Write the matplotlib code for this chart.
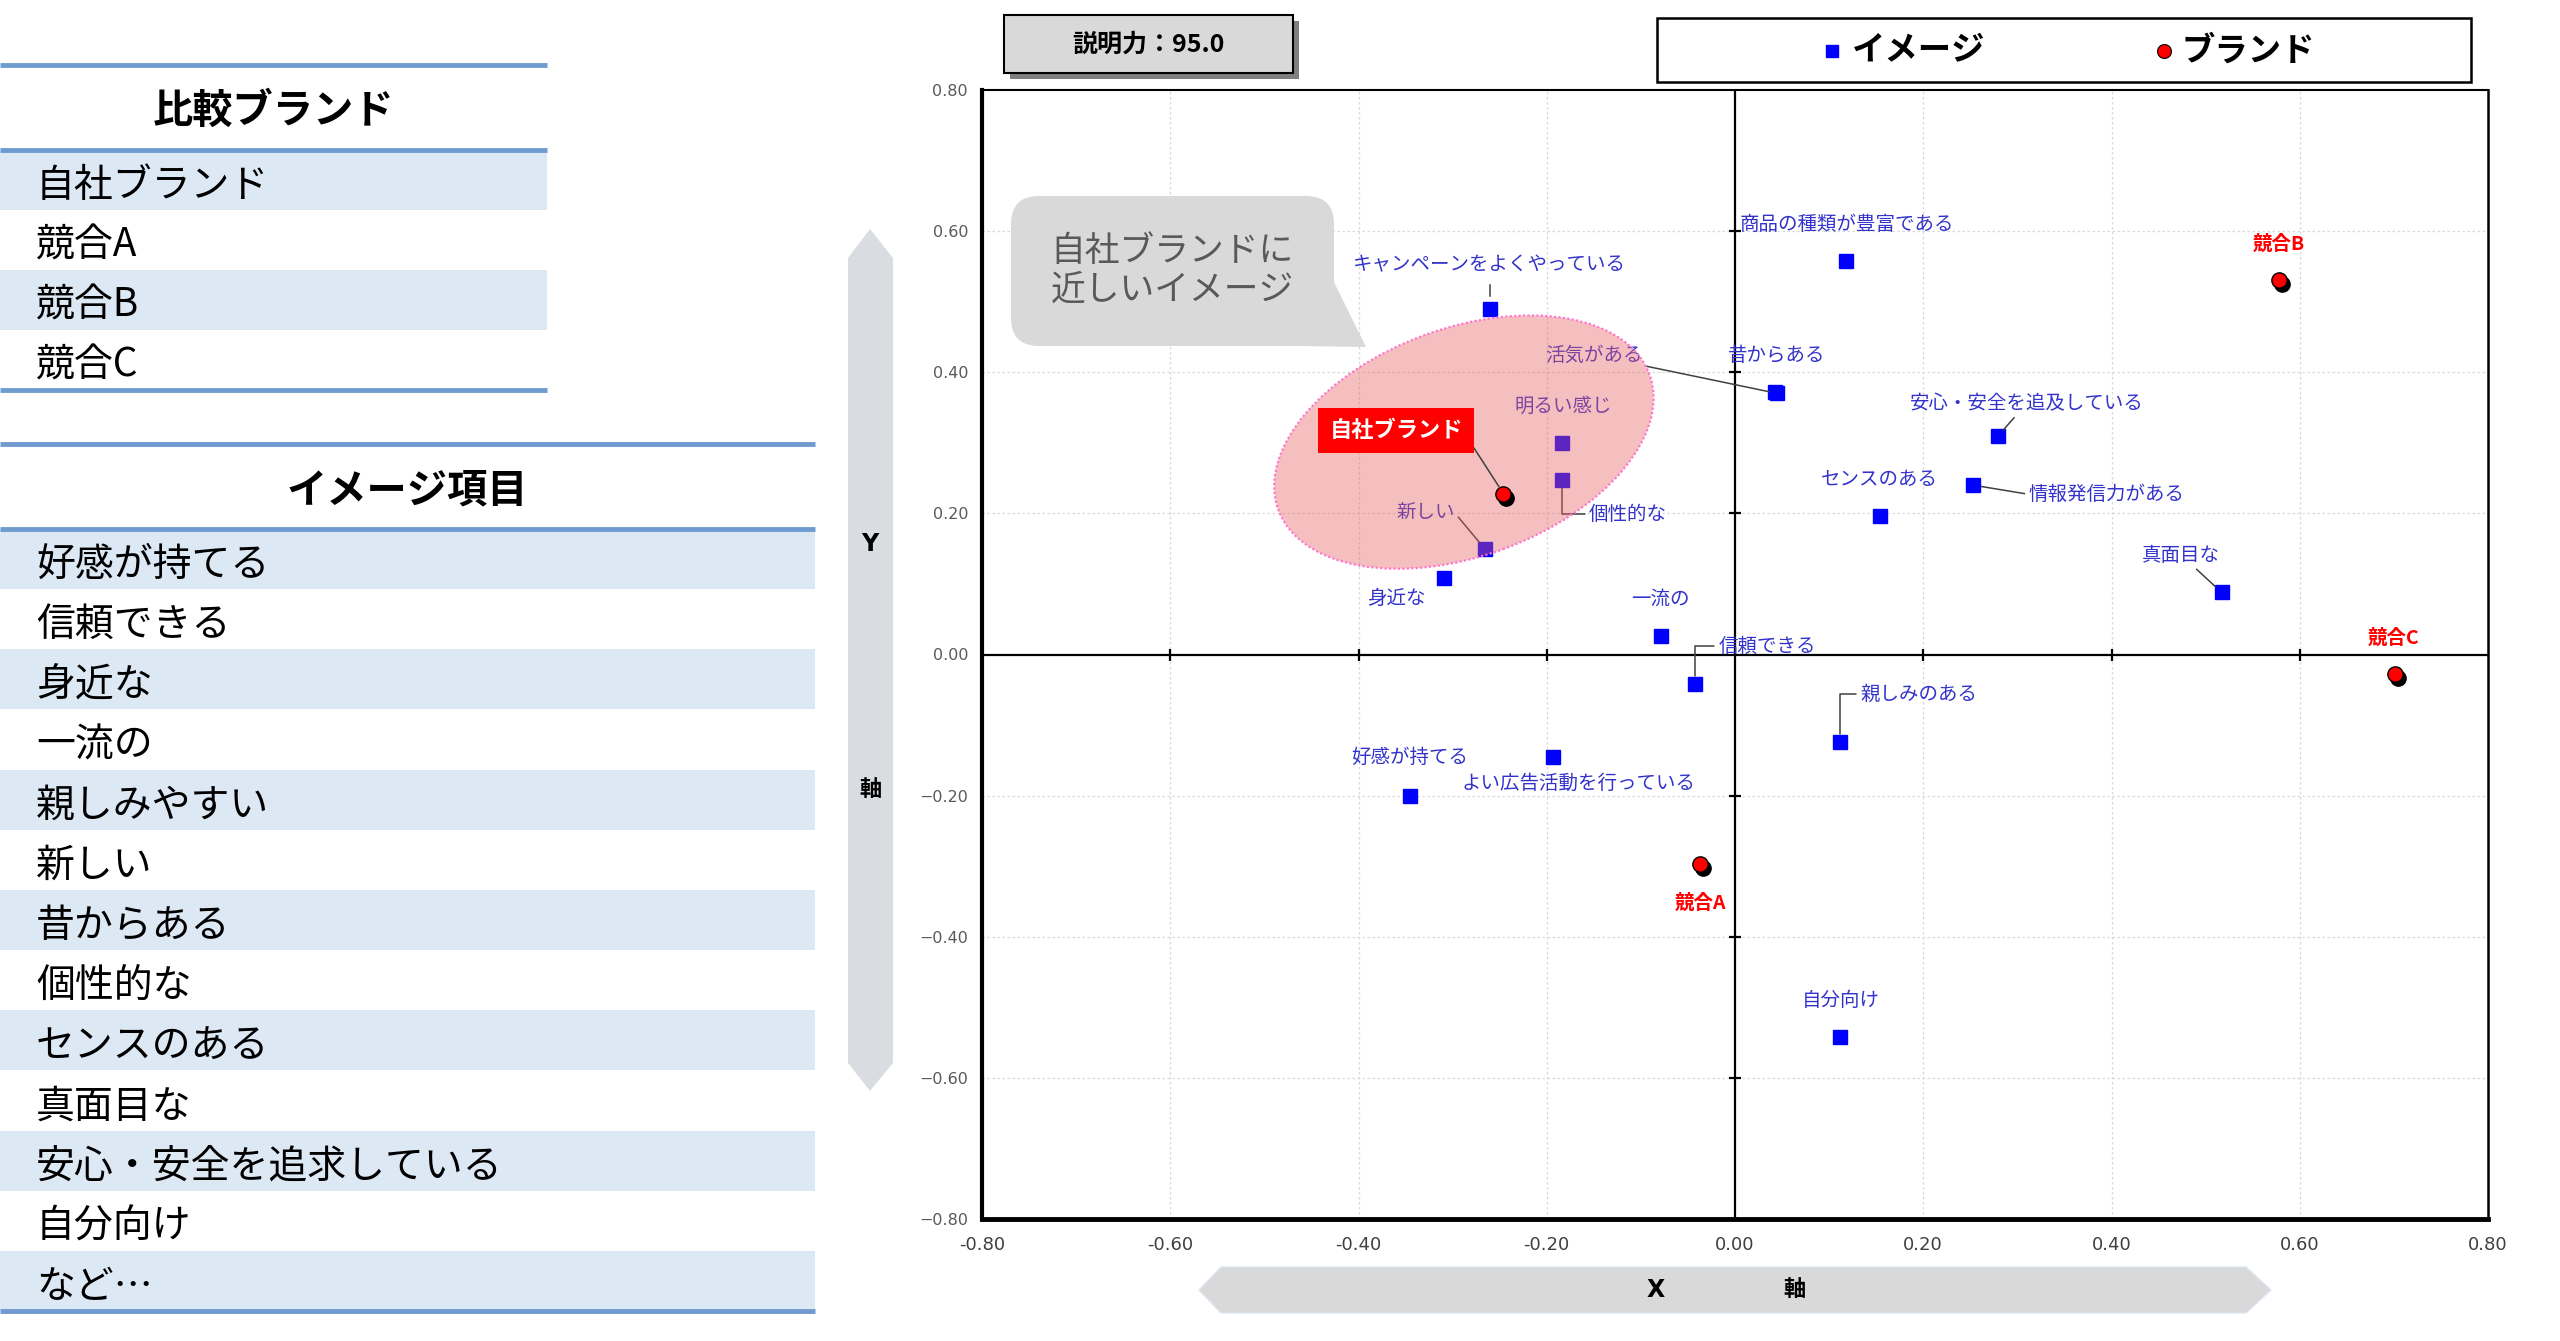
import matplotlib
matplotlib.use("Agg")
import matplotlib.pyplot as plt
from matplotlib.patches import Ellipse, Rectangle, Polygon, FancyBboxPatch
from matplotlib.transforms import ScaledTranslation, offset_copy

plt.rcParams['font.family'] = ['Noto Sans CJK JP', 'DejaVu Sans']

# ===== データ =====
brand_table = ["自社ブランド", "競合A", "競合B", "競合C"]
item_table = ["好感が持てる", "信頼できる", "身近な", "一流の", "親しみやすい", "新しい",
              "昔からある", "個性的な", "センスのある", "真面目な",
              "安心・安全を追求している", "自分向け", "など…"]

image_names = ["キャンペーンをよくやっている", "商品の種類が豊富である", "昔からある", "活気がある",
               "安心・安全を追及している", "情報発信力がある", "センスのある", "真面目な",
               "明るい感じ", "個性的な", "新しい", "身近な", "一流の", "信頼できる",
               "親しみのある", "よい広告活動を行っている", "好感が持てる", "自分向け"]
image_x = [-0.260, 0.118, 0.043, 0.045, 0.279, 0.253, 0.154, 0.517,
           -0.184, -0.184, -0.266, -0.309, -0.079, -0.042, 0.112, -0.193, -0.345, 0.112]
image_y = [0.490, 0.558, 0.372, 0.370, 0.309, 0.240, 0.196, 0.088,
           0.300, 0.248, 0.150, 0.108, 0.026, -0.042, -0.124, -0.145, -0.201, -0.542]

brand_names = ["自社ブランド", "競合A", "競合B", "競合C"]
brand_x = [-0.246, -0.037, 0.578, 0.701]
brand_y = [0.228, -0.297, 0.531, -0.028]

ticks = [-0.8, -0.6, -0.4, -0.2, 0.0, 0.2, 0.4, 0.6, 0.8]
explained = 95.0

# ラベル位置 (データ座標) と引き出し線の種類
image_label_pos = [(-0.261, 0.553), (0.119, 0.609), (0.044, 0.424), (-0.150, 0.424),
                   (0.310, 0.356), (0.395, 0.227), (0.153, 0.248), (0.474, 0.141),
                   (-0.183, 0.352), (-0.114, 0.199), (-0.329, 0.201), (-0.360, 0.079),
                   (-0.079, 0.079), (0.034, 0.012), (0.195, -0.056), (-0.166, -0.183),
                   (-0.346, -0.146), (0.112, -0.491)]
image_leader = [None, None, None, "line", "line", "left", None, "line",
                None, "elbow", "right", None, None, "elbow", "elbow", None, None, None]
brand_label_pos = [(-0.360, 0.317), (-0.037, -0.352), (0.578, 0.581), (0.700, 0.023)]

BLUE_TXT = '#3333CC'
LEADER = '#404040'

# ===== 図 =====
fig = plt.figure(figsize=(25.6, 13.41), dpi=100)
ax = fig.add_axes([982 / 2560, 1 - 1219 / 1341, (2488 - 982) / 2560, (1219 - 90) / 1341])
ax.set_xlim(-0.8, 0.8)
ax.set_ylim(-0.8, 0.8)
ax.set_xticks(ticks)
ax.set_yticks(ticks)
ax.set_xticklabels([f"{t:.2f}" for t in ticks],
                   family=['Liberation Sans Narrow', 'DejaVu Sans'], fontsize=13, color='#404040')
ax.set_yticklabels([f"{t:.2f}".replace("-", "\u2212") for t in ticks],
                   family='DejaVu Sans', fontsize=11.5, color='#595959')
ax.tick_params(length=0, pad=10)
ax.tick_params(axis='x', pad=12)
for t in ticks[1:-1]:
    if t != 0:
        ax.axvline(t, color='#D9D9D9', lw=0.9, ls=(0, (2, 2)), zorder=0)
        ax.axhline(t, color='#D9D9D9', lw=0.9, ls=(0, (2, 2)), zorder=0)
ax.axvline(0, color='black', lw=1.6, zorder=1)
ax.axhline(0, color='black', lw=1.6, zorder=1)
inner = [t for t in ticks[1:-1] if t != 0]
ax.plot(inner, [0] * len(inner), ls='none', marker='|', ms=9, mew=1.6, color='black', zorder=1)
ax.plot([0] * len(inner), inner, ls='none', marker='_', ms=9, mew=1.6, color='black', zorder=1)
for side, w in [('left', 3), ('bottom', 3.5), ('top', 1.5), ('right', 1.8)]:
    ax.spines[side].set_linewidth(w)
    ax.spines[side].set_color('black')

# イメージ
ax.plot(image_x, image_y, ls='none', marker='s', ms=10, color='#0000FF', zorder=3)

# 自社ブランドに近い領域 (ラベルと点の上に半透明で重ねる)
ell_trans = fig.dpi_scale_trans + ScaledTranslation(-0.288, 0.301, ax.transData)
ax.add_patch(Ellipse((0, 0), 3.95, 2.28, angle=20, transform=ell_trans,
                     fc='#E85F60', ec='none', alpha=0.4, zorder=4))
ax.add_patch(Ellipse((0, 0), 3.95, 2.28, angle=20, transform=ell_trans,
                     fc='none', ec='#FF77CC', lw=1.6, ls=(0, (1, 1)), zorder=4))

for name, px, py, pos, kind in zip(image_names, image_x, image_y, image_label_pos, image_leader):
    if kind is None:
        ax.text(pos[0], pos[1], name, ha='center', va='center', fontsize=14,
                color=BLUE_TXT, zorder=3)
        continue
    props = dict(arrowstyle='-', color=LEADER, lw=1.1, shrinkA=1, shrinkB=6)
    if kind == "elbow":
        props.update(connectionstyle="angle,angleA=0,angleB=90,rad=0", relpos=(0, 0.5))
    elif kind == "left":
        props.update(relpos=(0, 0.5))
    elif kind == "right":
        props.update(relpos=(1, 0.5))
    ax.annotate(name, xy=(px, py), xytext=pos, ha='center', va='center', fontsize=14,
                color=BLUE_TXT, arrowprops=props, zorder=3)
# キャンペーンの短い縦線
ax.plot([image_x[0], image_x[0]], [image_y[0] + 0.018, image_label_pos[0][1] - 0.03],
        color=LEADER, lw=1.1, zorder=2)

# ブランド
shadow = offset_copy(ax.transData, fig=fig, x=3, y=-4, units='dots')
ax.plot(brand_x, brand_y, ls='none', marker='o', ms=11, color='black', transform=shadow, zorder=6)
ax.plot(brand_x, brand_y, ls='none', marker='o', ms=11, mfc='#FF0000', mec='black', mew=1, zorder=7)
for i, (name, pos) in enumerate(zip(brand_names, brand_label_pos)):
    if i == 0:
        ax.annotate(name, xy=(brand_x[i], brand_y[i]), xytext=pos, ha='center', va='center',
                    fontsize=16, fontweight='bold', color='white',
                    bbox=dict(boxstyle='square,pad=0.5', fc='#FF0000', ec='none'),
                    arrowprops=dict(arrowstyle='-', color=LEADER, lw=1.1, relpos=(1, 0.5),
                                    shrinkA=0, shrinkB=6), zorder=8)
    else:
        ax.text(pos[0], pos[1], name, ha='center', va='center', fontsize=14,
                fontweight='bold', color='#FF0000', zorder=8)

# ===== 周辺の装飾 (ピクセル座標) =====
ov = fig.add_axes([0, 0, 1, 1], zorder=5)
ov.set_xlim(0, 2560)
ov.set_ylim(1341, 0)
ov.axis('off')
ov.patch.set_alpha(0)

LINE_C = '#6F9BD0'
SHADE = '#DDE8F5'


def draw_table(title, rows, x1, top, title_h, row_h):
    ov.plot([0, x1], [top, top], color=LINE_C, lw=3.5, solid_capstyle='butt')
    ov.text(x1 / 2, top + title_h / 2 + 4, title, ha='center', va='center',
            fontsize=29, fontweight='bold')
    y = top + title_h
    for i, r in enumerate(rows):
        if i % 2 == 0:
            ov.add_patch(Rectangle((0, y), x1, row_h, fc=SHADE, ec='none'))
        ov.text(36, y + row_h / 2 + 6, r, ha='left', va='center', fontsize=28)
        y += row_h
    ov.plot([0, x1], [top + title_h, top + title_h], color=LINE_C, lw=3.5, solid_capstyle='butt')
    ov.plot([0, x1], [y, y], color=LINE_C, lw=3.5, solid_capstyle='butt')


draw_table("比較ブランド", brand_table, 547, 65, 85, 60)
draw_table("イメージ項目", item_table, 815, 444, 85, 60.15)

# Y軸 / X軸 の矢印
ov.add_patch(Polygon([(848, 258), (870, 229), (893, 258), (893, 1063), (870, 1091), (848, 1063)],
                     closed=True, fc='#D9DDE2', ec='none'))
ov.text(870, 544, "Y", ha='center', va='center', fontsize=17, fontweight='bold', family='DejaVu Sans')
ov.text(870, 789, "軸", ha='center', va='center', fontsize=16, fontweight='bold')
ov.add_patch(Polygon([(1199, 1290), (1221, 1267), (2246, 1267), (2271, 1290), (2246, 1313), (1221, 1313)],
                     closed=True, fc='#D9D9D9', ec='#DCE6F0', lw=1))
ov.text(1656, 1290, "X", ha='center', va='center', fontsize=17, fontweight='bold', family='DejaVu Sans')
ov.text(1795, 1290, "軸", ha='center', va='center', fontsize=16, fontweight='bold')

# 説明力
ov.add_patch(Rectangle((1010, 21), 289, 58, fc='#7F7F7F', ec='none'))
ov.add_patch(Rectangle((1004, 15), 289, 58, fc='#D9D9D9', ec='black', lw=1.5))
ov.text(1148, 45, f"説明力：{explained:.1f}", ha='center', va='center', fontsize=18, fontweight='bold')

# 凡例
ov.add_patch(Rectangle((1657, 18), 814, 64, fc='white', ec='black', lw=1.8))
ov.plot([1832], [51], marker='s', ms=9, color='#0000FF', ls='none')
ov.text(1852, 51, "イメージ", ha='left', va='center', fontsize=24, fontweight='bold')
ov.plot([2164], [51], marker='o', ms=10, mfc='#FF0000', mec='black', mew=0.8, ls='none')
ov.text(2182, 51, "ブランド", ha='left', va='center', fontsize=24, fontweight='bold')

# 吹き出し
ov.add_patch(FancyBboxPatch((1021, 206), 303, 130, boxstyle='round,pad=10,rounding_size=28',
                            fc='#D9D9D9', ec='none'))
ov.add_patch(Polygon([(1328, 270), (1366, 347), (1300, 346)], closed=True, fc='#D9D9D9', ec='none'))
ov.text(1172, 271, "自社ブランドに\n近しいイメージ", ha='center', va='center', fontsize=25,
        color='#595959', linespacing=1.15)

fig.savefig("out.png", dpi=100)
